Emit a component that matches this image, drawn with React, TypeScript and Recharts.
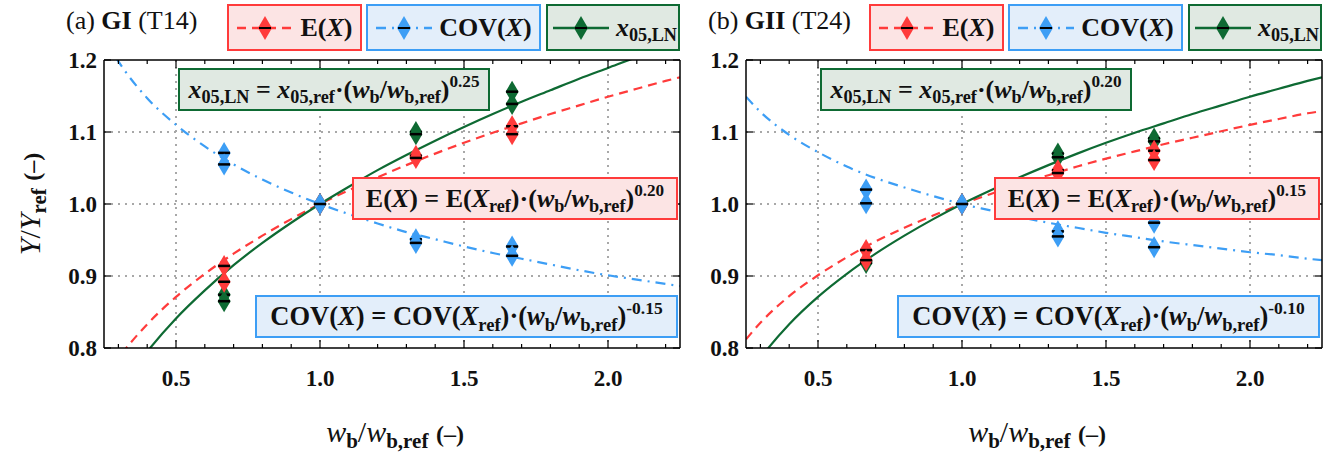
import React from "react";
import {
  ComposedChart, Line, Scatter, XAxis, YAxis, CartesianGrid,
} from "recharts";

const SERIF = '"Liberation Serif", "DejaVu Serif", serif';
const RED = "#ff3b3b";
const BLUE = "#3d9ef5";
const GREEN = "#0e6a33";

// axis ticks
const X_MAJOR = [0.5, 1.0, 1.5, 2.0];
const X_TICKS = [0.3, 0.4, 0.5, 0.6, 0.7, 0.8, 0.9, 1.0, 1.1, 1.2, 1.3, 1.4, 1.5, 1.6, 1.7, 1.8, 1.9, 2.0, 2.1, 2.2];
const Y_TICKS = [0.8, 0.9, 1.0, 1.1, 1.2];
const GRID_X = [0.5, 1.0, 1.5, 2.0];
const GRID_Y = [0.9, 1.0, 1.1];

// fitted curves
const CURVE_X = [0.25, 0.3, 0.4, 0.5, 0.6, 0.7, 0.8, 0.9, 1.0, 1.1, 1.2, 1.3, 1.4, 1.5, 1.6, 1.7, 1.8, 1.9, 2.0, 2.1, 2.2, 2.25];
const A_E_CURVE = [0.758, 0.786, 0.833, 0.871, 0.903, 0.931, 0.956, 0.979, 1.0, 1.019, 1.037, 1.054, 1.070, 1.085, 1.099, 1.112, 1.125, 1.137, 1.149, 1.160, 1.171, 1.176];
const A_COV_CURVE = [1.231, 1.198, 1.147, 1.110, 1.080, 1.055, 1.034, 1.016, 1.0, 0.986, 0.973, 0.961, 0.951, 0.941, 0.932, 0.924, 0.916, 0.908, 0.901, 0.895, 0.889, 0.886];
const A_LN_CURVE = [0.707, 0.740, 0.795, 0.841, 0.880, 0.915, 0.946, 0.974, 1.0, 1.024, 1.047, 1.068, 1.088, 1.107, 1.125, 1.142, 1.158, 1.174, 1.189, 1.204, 1.218, 1.225];
const B_E_CURVE = [0.812, 0.835, 0.872, 0.901, 0.926, 0.948, 0.967, 0.984, 1.0, 1.014, 1.028, 1.040, 1.052, 1.063, 1.073, 1.083, 1.092, 1.101, 1.110, 1.118, 1.126, 1.129];
const B_COV_CURVE = [1.149, 1.128, 1.096, 1.072, 1.052, 1.036, 1.023, 1.011, 1.0, 0.991, 0.982, 0.974, 0.967, 0.960, 0.954, 0.948, 0.943, 0.938, 0.933, 0.929, 0.924, 0.922];
const B_LN_CURVE = [0.758, 0.786, 0.833, 0.871, 0.903, 0.931, 0.956, 0.979, 1.0, 1.019, 1.037, 1.054, 1.070, 1.085, 1.099, 1.112, 1.125, 1.137, 1.149, 1.160, 1.171, 1.176];

// test results
const PT_X = [0.667, 0.667, 1.0, 1.333, 1.333, 1.667, 1.667];
const A_E_PTS = [0.914, 0.892, 1.0, 1.067, 1.064, 1.108, 1.097];
const A_COV_PTS = [1.071, 1.055, 1.0, 0.951, 0.946, 0.941, 0.928];
const A_LN_PTS = [0.874, 0.865, 1.0, 1.100, 1.097, 1.156, 1.139];
const B_E_PTS = [0.936, 0.922, 1.0, 1.047, 1.043, 1.074, 1.061];
const B_COV_PTS = [1.020, 1.001, 1.0, 0.962, 0.955, 0.974, 0.940];
const B_LN_PTS = [0.921, 0.918, 1.0, 1.070, 1.065, 1.091, 1.087];

const zip = (xs: number[], ys: number[]) => xs.map((x, i) => ({ x, y: ys[i] }));

const isMajor = (v: number) => X_MAJOR.some((m) => Math.abs(m - v) < 1e-6);

const Sub = ({ children }: { children: React.ReactNode }) => (
  <span style={{ fontSize: "0.7em", verticalAlign: "-0.3em", lineHeight: 0 }}>{children}</span>
);
const Sup = ({ children }: { children: React.ReactNode }) => (
  <span style={{ fontSize: "0.66em", verticalAlign: "0.62em", lineHeight: 0 }}>{children}</span>
);

const diamond = (color: string) => (props: any) => {
  const { cx, cy } = props;
  if (cx == null || cy == null) return <g />;
  return (
    <g>
      <path d={`M${cx},${cy - 11}L${cx + 6.5},${cy}L${cx},${cy + 11}L${cx - 6.5},${cy}Z`} fill={color} />
      <line x1={cx - 6} x2={cx + 6} y1={cy} y2={cy} stroke="#000" strokeWidth={2.5} />
    </g>
  );
};

const BottomTick = (props: any) => {
  const { x, y, payload } = props;
  const major = isMajor(payload.value);
  return (
    <g>
      <line x1={x} x2={x} y1={y} y2={y - (major ? 8 : 4)} stroke="#000" strokeWidth={1.2} />
      {major && (
        <text x={x} y={y + 38} textAnchor="middle" fontFamily={SERIF} fontWeight="bold" fontSize={23} fill="#111">
          {payload.value.toFixed(1)}
        </text>
      )}
    </g>
  );
};

const TopTick = (props: any) => {
  const { x, y, payload } = props;
  const major = isMajor(payload.value);
  return <line x1={x} x2={x} y1={y} y2={y + (major ? 8 : 4)} stroke="#000" strokeWidth={1.2} />;
};

const LeftTick = (props: any) => {
  const { x, y, payload } = props;
  return (
    <g>
      <line x1={x} x2={x + 7} y1={y} y2={y} stroke="#000" strokeWidth={1.2} />
      <text x={x - 7} y={y + 8} textAnchor="end" fontFamily={SERIF} fontWeight="bold" fontSize={23} fill="#111">
        {payload.value.toFixed(1)}
      </text>
    </g>
  );
};

const RightTick = (props: any) => {
  const { x, y } = props;
  return <line x1={x} x2={x - 7} y1={y} y2={y} stroke="#000" strokeWidth={1.2} />;
};

const boxStyle = (bg: string, border: string, l: number, t: number, w: number, h: number): React.CSSProperties => ({
  position: "absolute", left: l, top: t, width: w, height: h, boxSizing: "border-box",
  background: bg, border: `2px solid ${border}`, display: "flex", alignItems: "center",
  justifyContent: "center", fontFamily: SERIF, fontWeight: "bold", color: "#111", whiteSpace: "nowrap",
});

const LegendMark = ({ color, dash }: { color: string; dash?: string }) => (
  <svg width={58} height={30} style={{ marginRight: 6, flex: "none" }}>
    <line x1={1} x2={57} y1={15} y2={15} stroke={color} strokeWidth={2.5} strokeDasharray={dash} />
    <path d="M29,3L36,15L29,27L22,15Z" fill={color} />
    <line x1={23} x2={35} y1={15} y2={15} stroke="#000" strokeWidth={2} />
  </svg>
);

const RED_BG = "#fce4e4";
const BLUE_BG = "#e3eefa";
const GREEN_BG = "#e0e9e2";
const E_DASH = "9 6";
const COV_DASH = "10 6 2 6";

interface PanelProps {
  left: number;
  tag: string;
  name: string;
  test: string;
  eCurve: number[];
  covCurve: number[];
  lnCurve: number[];
  ePts: number[];
  covPts: number[];
  lnPts: number[];
  eExp: string;
  covExp: string;
  lnExp: string;
}

function Panel(p: PanelProps) {
  const wb = (
    <>
      (<i>w</i><Sub>b</Sub>/<i>w</i><Sub>b,ref</Sub>)
    </>
  );
  return (
    <div style={{ position: "absolute", left: p.left, top: 0, width: 688, height: 454 }}>
      <ComposedChart width={688} height={454} margin={{ top: 58, right: 6, bottom: 66, left: 64 }}>
        <CartesianGrid
          xAxisId="b"
          yAxisId="l"
          horizontalValues={GRID_Y}
          verticalValues={GRID_X}
          stroke="#a8a8a8"
          strokeWidth={2}
          strokeDasharray="2 5"
        />
        <XAxis xAxisId="b" dataKey="x" type="number" domain={[0.25, 2.25]} ticks={X_TICKS} allowDataOverflow
          height={40} tickSize={0} tickMargin={0} tickLine={false} interval={0}
          axisLine={{ stroke: "#000", strokeWidth: 1.5 }} tick={<BottomTick />} />
        <XAxis xAxisId="t" orientation="top" dataKey="x" type="number" domain={[0.25, 2.25]} ticks={X_TICKS}
          allowDataOverflow height={2} tickSize={0} tickMargin={0} tickLine={false} interval={0}
          axisLine={{ stroke: "#000", strokeWidth: 1.5 }} tick={<TopTick />} />
        <YAxis yAxisId="l" type="number" domain={[0.8, 1.2]} ticks={Y_TICKS} allowDataOverflow width={40}
          tickSize={0} tickMargin={0} tickLine={false} interval={0}
          axisLine={{ stroke: "#000", strokeWidth: 1.5 }} tick={<LeftTick />} />
        <YAxis yAxisId="r" orientation="right" type="number" domain={[0.8, 1.2]} ticks={Y_TICKS} allowDataOverflow
          width={2} tickSize={0} tickMargin={0} tickLine={false} interval={0}
          axisLine={{ stroke: "#000", strokeWidth: 1.5 }} tick={<RightTick />} />
        <Line xAxisId="b" yAxisId="l" data={zip(CURVE_X, p.eCurve)} dataKey="y" type="monotone" stroke={RED}
          strokeWidth={2.2} strokeDasharray={E_DASH} dot={false} isAnimationActive={false} />
        <Line xAxisId="b" yAxisId="l" data={zip(CURVE_X, p.covCurve)} dataKey="y" type="monotone" stroke={BLUE}
          strokeWidth={2.2} strokeDasharray={COV_DASH} dot={false} isAnimationActive={false} />
        <Line xAxisId="b" yAxisId="l" data={zip(CURVE_X, p.lnCurve)} dataKey="y" type="monotone" stroke={GREEN}
          strokeWidth={2.2} dot={false} isAnimationActive={false} />
        <Scatter xAxisId="b" yAxisId="l" data={zip(PT_X, p.lnPts)} dataKey="y" shape={diamond(GREEN)} isAnimationActive={false} />
        <Scatter xAxisId="b" yAxisId="l" data={zip(PT_X, p.ePts)} dataKey="y" shape={diamond(RED)} isAnimationActive={false} />
        <Scatter xAxisId="b" yAxisId="l" data={zip(PT_X, p.covPts)} dataKey="y" shape={diamond(BLUE)} isAnimationActive={false} />
      </ComposedChart>

      {/* panel title */}
      <div style={{ position: "absolute", left: 66, top: 6, fontFamily: SERIF, fontSize: 26, color: "#111", whiteSpace: "nowrap" }}>
        {p.tag} <b>{p.name}</b> {p.test}
      </div>

      {/* legend */}
      <div style={{ ...boxStyle(RED_BG, RED, 227, 4, 135, 47), fontSize: 26 }}>
        <LegendMark color={RED} dash={E_DASH} /><span>E(<i>X</i>)</span>
      </div>
      <div style={{ ...boxStyle(BLUE_BG, BLUE, 366, 4, 175, 47), fontSize: 26 }}>
        <LegendMark color={BLUE} dash={COV_DASH} /><span>COV(<i>X</i>)</span>
      </div>
      <div style={{ ...boxStyle(GREEN_BG, GREEN, 546, 4, 134, 47), fontSize: 26, justifyContent: "flex-start", paddingLeft: 4 }}>
        <LegendMark color={GREEN} /><span><i>x</i><Sub>05,LN</Sub></span>
      </div>

      {/* fitted relations */}
      <div style={{ ...boxStyle(GREEN_BG, GREEN, 178, 68, 312, 43), fontSize: 26 }}>
        <span><i>x</i><Sub>05,LN</Sub>&nbsp;=&nbsp;<i>x</i><Sub>05,ref</Sub>·{wb}<Sup>{p.lnExp}</Sup></span>
      </div>
      <div style={{ ...boxStyle(RED_BG, RED, 352, 177, 326, 43), fontSize: 26 }}>
        <span>E(<i>X</i>)&nbsp;=&nbsp;E(<i>X</i><Sub>ref</Sub>)·{wb}<Sup>{p.eExp}</Sup></span>
      </div>
      <div style={{ ...boxStyle(BLUE_BG, BLUE, 255, 295, 423, 43), fontSize: 26.5 }}>
        <span>COV(<i>X</i>)&nbsp;=&nbsp;COV(<i>X</i><Sub>ref</Sub>)·{wb}<Sup>{p.covExp}</Sup></span>
      </div>

      {/* axis title */}
      <div style={{ position: "absolute", left: 395, top: 432, transform: "translate(-50%, -50%)", fontFamily: SERIF,
        fontSize: 30, color: "#111", whiteSpace: "nowrap" }}>
        <i>w</i><b><Sub>b</Sub></b>/<i>w</i><b><Sub>b,ref</Sub></b> <b style={{ fontSize: 24 }}>(–)</b>
      </div>
    </div>
  );
}

export default function App() {
  return (
    <div style={{ position: "absolute", left: 0, top: 0, width: 1330, height: 454, background: "#fff", overflow: "hidden" }}>
      <Panel left={0} tag="(a)" name="GI" test="(T14)" eCurve={A_E_CURVE} covCurve={A_COV_CURVE} lnCurve={A_LN_CURVE}
        ePts={A_E_PTS} covPts={A_COV_PTS} lnPts={A_LN_PTS} eExp="0.20" covExp="-0.15" lnExp="0.25" />
      <Panel left={642} tag="(b)" name="GII" test="(T24)" eCurve={B_E_CURVE} covCurve={B_COV_CURVE} lnCurve={B_LN_CURVE}
        ePts={B_E_PTS} covPts={B_COV_PTS} lnPts={B_LN_PTS} eExp="0.15" covExp="-0.10" lnExp="0.20" />
      <div style={{ position: "absolute", left: 30, top: 204, transform: "translate(-50%, -50%) rotate(-90deg)",
        fontFamily: SERIF, fontSize: 30, color: "#111", whiteSpace: "nowrap" }}>
        <i>Y</i>/<i>Y</i><b><Sub>ref</Sub></b> <b style={{ fontSize: 24 }}>(–)</b>
      </div>
    </div>
  );
}
